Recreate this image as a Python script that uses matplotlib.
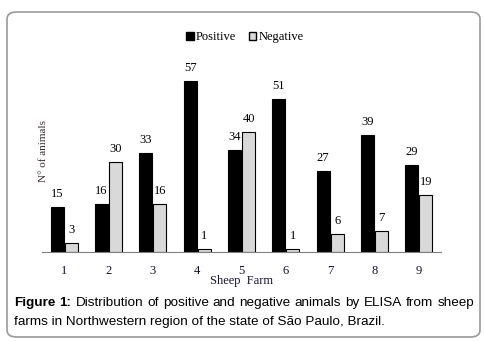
import matplotlib
matplotlib.use("Agg")
import matplotlib.pyplot as plt
from matplotlib.patches import FancyBboxPatch, Patch
import numpy as np

farms = ["1", "2", "3", "4", "5", "6", "7", "8", "9"]
positive = [15, 16, 33, 57, 34, 51, 27, 39, 29]
negative = [3, 30, 16, 1, 40, 1, 6, 7, 19]

caption_1 = "Distribution of positive and negative animals by ELISA from sheep"
caption_2 = "farms in Northwestern region of the state of São Paulo, Brazil."

plt.rcParams['font.family'] = ['Liberation Serif', 'DejaVu Serif']

fig = plt.figure(figsize=(4.85, 3.41), dpi=100)

# rounded frame around the whole figure
frame = FancyBboxPatch((7 / 485, 4 / 341), 473 / 485, 325 / 341,
                       boxstyle="round,pad=0,rounding_size=0.02",
                       transform=fig.transFigure, facecolor="none",
                       edgecolor="#9a9a9a", linewidth=1.2, zorder=0)
fig.patches.append(frame)

ax = fig.add_axes([42 / 485, 1 - 252 / 341, 399 / 485, 180 / 341])
ax.set_facecolor("none")

x = np.arange(1, len(farms) + 1)
w = 0.29
off = 0.16
b1 = ax.bar(x - off, positive, w, color="black", edgecolor="black", linewidth=0.8, label="Positive")
b2 = ax.bar(x + off, negative, w, color="#d9d9d9", edgecolor="black", linewidth=0.8, label="Negative")

for bars in (b1, b2):
    for r in bars:
        ax.text(r.get_x() + r.get_width() / 2, r.get_height() + 2.2, f"{int(r.get_height())}",
                ha="center", va="bottom", fontsize=9)

ax.set_xlim(0.5, 9.5)
ax.set_ylim(0, 60)
ax.set_xticks(x)
ax.set_xticklabels(farms, fontsize=9, color="#101030")
ax.set_yticks([])
ax.tick_params(axis="x", length=0, pad=9)
for s in ("top", "right", "left"):
    ax.spines[s].set_visible(False)
ax.spines["bottom"].set_color("#808080")
ax.spines["bottom"].set_linewidth(0.8)

ax.set_xlabel("Sheep  Farm", fontsize=9, color="#1a1030", labelpad=-1)
ax.set_ylabel("N° of animals", fontsize=8, color="#3a2a30", labelpad=1)
ax.yaxis.set_label_coords(0.016, 0.56)

ax.legend(handles=[Patch(facecolor="black", edgecolor="black"),
                   Patch(facecolor="#d9d9d9", edgecolor="black")],
          labels=["Positive", "Negative"], loc="center",
          bbox_to_anchor=(245 / 485, 1 - 37 / 341), bbox_transform=fig.transFigure,
          ncol=2, frameon=False, fontsize=9, handlelength=0.6, handleheight=0.6,
          handletextpad=0.2, columnspacing=1.0)

# caption, first line justified between x=14 and x=474 px
fs = 9.7
renderer = fig.canvas.get_renderer()
words = [("Figure", "bold"), ("1:", "bold")] + [(wd, "normal") for wd in caption_1.split()]
arts = []
for wd, wt in words:
    t = fig.text(0, 1 - 303 / 341, wd, fontsize=fs, fontweight=wt,
                 family=["Liberation Sans"], va="center", ha="left")
    arts.append(t)
widths = [t.get_window_extent(renderer).width for t in arts]
gap = (460 - sum(widths)) / (len(arts) - 1)
xpos = 14
for t, wpx in zip(arts, widths):
    t.set_x(xpos / 485)
    xpos += wpx + gap
fig.text(14 / 485, 1 - 322 / 341, caption_2, fontsize=fs,
         family=["Liberation Sans"], va="center", ha="left")

fig.savefig("out.png", dpi=100)
